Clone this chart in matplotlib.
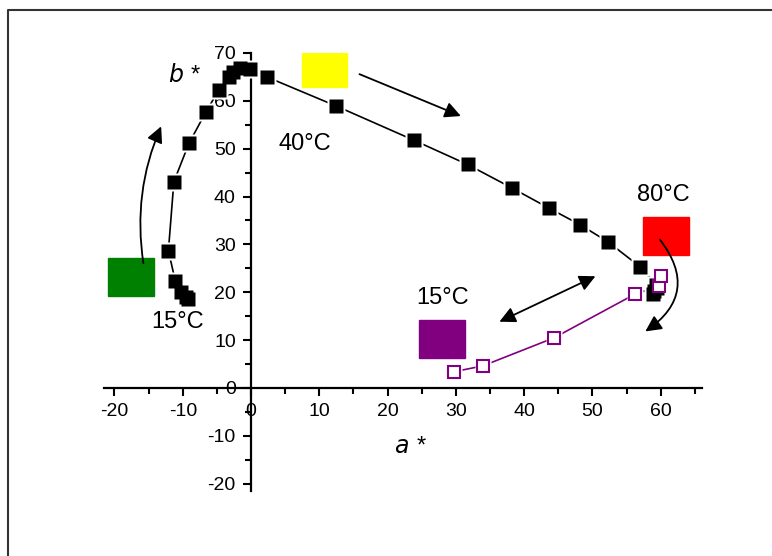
import matplotlib
matplotlib.use("Agg")
import matplotlib.pyplot as plt
from matplotlib.patches import Rectangle, FancyArrowPatch
from matplotlib.lines import Line2D
from matplotlib.ticker import MultipleLocator

plt.rcParams["font.family"] = ["Liberation Sans", "DejaVu Sans"]
plt.rcParams["axes.unicode_minus"] = False

# heating path (filled squares)
heat_a = [-9.2, -9.5, -10.2, -11.1, -12.1, -11.3, -9.1, -6.6, -4.7, -3.3, -2.7,
          -1.6, -0.2, 2.3, 12.5, 23.8, 31.7, 38.2, 43.6, 48.2, 52.2, 57.0,
          59.3, 59.5, 59.0, 58.9]
heat_b = [18.6, 19.1, 20.1, 22.4, 28.7, 43.1, 51.1, 57.7, 62.3, 65.0, 66.1,
          66.9, 66.6, 65.0, 58.9, 51.8, 46.7, 41.8, 37.6, 34.1, 30.6, 25.3,
          21.6, 20.8, 20.3, 19.6]

# cooling path (open squares)
cool_a = [29.7, 33.9, 44.4, 56.2, 59.8, 60.0]
cool_b = [3.4, 4.6, 10.5, 19.6, 21.3, 23.3]

# colour swatches: (a, b) of lower-left corner, colour
swatch_a = [-20.9, 7.4, 57.4, 24.6]
swatch_b = [19.2, 62.8, 27.8, 6.3]
swatch_colors = ["#008000", "#ffff00", "#ff0000", "#800080"]

labels = ["40°C", "80°C", "15°C", "15°C"]
label_a = [7.9, 60.3, 28.0, -10.7]
label_b = [51.0, 40.3, 18.8, 13.8]

fig = plt.figure(figsize=(7.72, 5.56), dpi=100)
ax = fig.add_axes([0.135, 0.1171, 0.774, 0.7876])

# thin frame (left and top only, as in the original)
fig.add_artist(Line2D([8 / 772, 8 / 772, 1.0], [0.0, 1 - 10 / 556, 1 - 10 / 556],
                      transform=fig.transFigure, color="#333333", lw=1.5))

# lines with small gaps around markers
ax.plot(heat_a, heat_b, color="black", lw=1.2, zorder=2)
ax.plot(heat_a, heat_b, ls="none", marker="s", ms=13.5, color="white", mec="none", zorder=3)
ax.plot(heat_a, heat_b, ls="none", marker="s", ms=10, color="black", mec="none", zorder=4)

ax.plot(cool_a, cool_b, color="#800080", lw=1.2, zorder=2)
ax.plot(cool_a, cool_b, ls="none", marker="s", ms=12, color="white", mec="none", zorder=3)
ax.plot(cool_a, cool_b, ls="none", marker="s", ms=8, mfc="white", mec="#800080",
        mew=1.5, zorder=4)

for a, b, c in zip(swatch_a, swatch_b, swatch_colors):
    ax.add_patch(Rectangle((a, b), 6.7, 8.0, color=c, zorder=1))

for t, a, b in zip(labels, label_a, label_b):
    ax.text(a, b, t, fontsize=17, ha="center", va="center")

ax.text(-9.7, 65.4, "$b$ *", fontsize=17, ha="center", va="center",
        fontstyle="italic")
ax.text(23.3, -12.3, "$a$ *", fontsize=17, ha="center", va="center",
        fontstyle="italic")

arrow_kw = dict(color="black", lw=1.3, mutation_scale=24, zorder=5)
ax.add_patch(FancyArrowPatch((-15.7, 25.5), (-13.0, 55.2), arrowstyle="-|>",
                             connectionstyle="arc3,rad=-0.15", **arrow_kw))
ax.add_patch(FancyArrowPatch((15.5, 65.8), (31.1, 56.6), arrowstyle="-|>", **arrow_kw))
ax.add_patch(FancyArrowPatch((59.6, 31.5), (57.4, 11.5), arrowstyle="-|>",
                             connectionstyle="arc3,rad=-0.55", **arrow_kw))
ax.add_patch(FancyArrowPatch((36.0, 13.6), (50.8, 23.6), arrowstyle="<|-|>", **arrow_kw))

ax.set_xlim(-21.5, 66)
ax.set_ylim(-21.5, 70)
for s in ["top", "right"]:
    ax.spines[s].set_visible(False)
ax.spines["left"].set_position(("data", 0))
ax.spines["bottom"].set_position(("data", 0))
for s in ["left", "bottom"]:
    ax.spines[s].set_linewidth(1.6)

ax.xaxis.set_minor_locator(MultipleLocator(5))
ax.yaxis.set_minor_locator(MultipleLocator(5))
ax.set_xticks(range(-20, 61, 10))
ax.set_yticks(range(-20, 71, 10))
ax.tick_params(which="major", length=6, width=1.5, labelsize=14, pad=5)
ax.tick_params(which="minor", length=4, width=1.5)
ax.patch.set_visible(False)

fig.savefig("out.png", dpi=100)
